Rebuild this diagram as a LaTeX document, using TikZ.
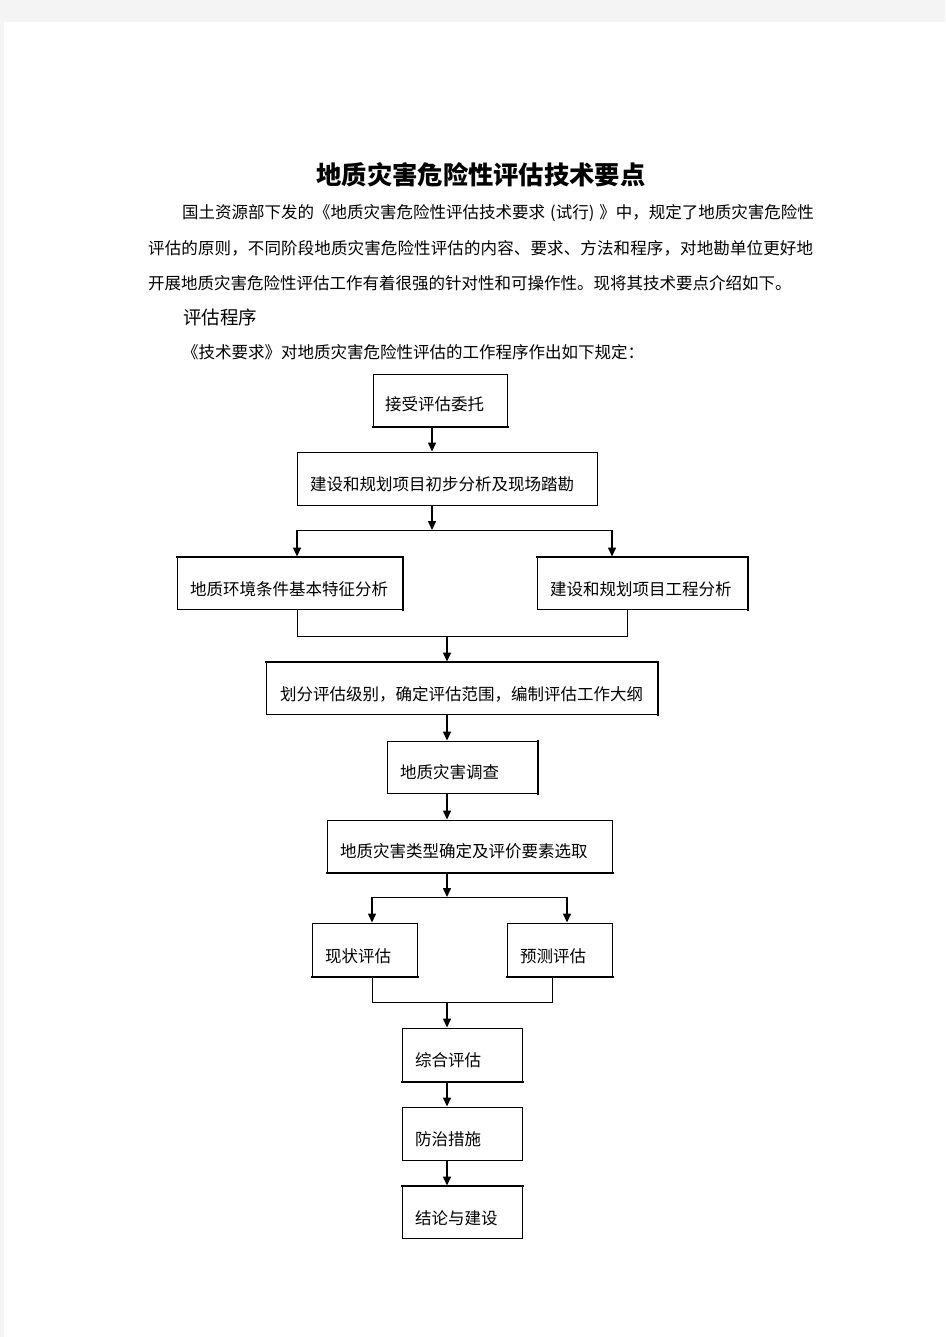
\documentclass[tikz,border=0pt]{standalone}
\usepackage{fontspec}
\setmainfont{Noto Sans CJK SC}
\usetikzlibrary{arrows.meta}
\definecolor{pagegray}{HTML}{F4F4F4}
\tikzset{
  box/.style={draw=black, line width=1pt, inner sep=0pt, fill=white},
  lbl/.style={anchor=west, inner sep=0pt, font=\fontsize{16.5}{20}\selectfont},
  arr/.style={line width=1.5pt, -{Triangle[length=9pt,width=8pt]}},
  ln/.style={line width=1pt},
  heavy/.style={line width=2pt, line cap=rect},
  para/.style={anchor=west, inner sep=0pt, font=\fontsize{16.5}{20}\selectfont}
}
\begin{document}
\begin{tikzpicture}[x=1pt,y=-1pt]
\useasboundingbox (0,0) rectangle (945,1337);
\fill[pagegray] (0,0) rectangle (945,1337);
\fill[white] (4,22) rectangle (945,1337);

% title and text
\node[inner sep=0pt, font=\fontsize{25.3}{30}\selectfont\bfseries] (title) at (481,175) {地质灾害危险性评估技术要点};
\node[para] (p1) at (182,213) {国土资源部下发的《地质灾害危险性评估技术要求\hspace{5pt}(试行)\hspace{5pt}》中，规定了地质灾害危险性};
\node[para] (p2) at (148,248) {\addfontfeature{LetterSpace=0.76}评估的原则，不同阶段地质灾害危险性评估的内容、要求、方法和程序，对地勘单位更好地};
\node[para] (p3) at (148,283) {开展地质灾害危险性评估工作有着很强的针对性和可操作性。现将其技术要点介绍如下。};
\node[anchor=west, inner sep=0pt, font=\fontsize{18.5}{22}\selectfont] (h1) at (183,317) {评估程序};
\node[para] (p4) at (182,352) {《技术要求》对地质灾害危险性评估的工作程序作出如下规定：};

% boxes
\node[box, minimum width=134pt, minimum height=52pt] (b1) at (440,400) {};
\node[box, minimum width=300pt, minimum height=53pt] (b2) at (447,478.5) {};
\node[box, minimum width=225pt, minimum height=52pt] (b3) at (289.5,583) {};
\node[box, minimum width=210pt, minimum height=52pt] (b4) at (642,583) {};
\node[box, minimum width=391pt, minimum height=52pt] (b5) at (461.5,688) {};
\node[box, minimum width=150pt, minimum height=52pt] (b6) at (462,767) {};
\node[box, minimum width=285pt, minimum height=52pt] (b7) at (469.5,846) {};
\node[box, minimum width=105pt, minimum height=53pt] (b8) at (364.5,949.5) {};
\node[box, minimum width=105pt, minimum height=53pt] (b9) at (559.5,949.5) {};
\node[box, minimum width=120pt, minimum height=53pt] (b10) at (462,1054.5) {};
\node[box, minimum width=120pt, minimum height=53pt] (b11) at (462,1133.5) {};
\node[box, minimum width=120pt, minimum height=52pt] (b12) at (462,1212) {};

% heavier edges as printed
\draw[heavy] (b1.south west) -- (b1.south east);
\draw[heavy] (b3.north west) -- (b3.north east) -- (b3.south east);
\draw[heavy] (b4.north west) -- (b4.north east) -- (b4.south east);
\draw[heavy] (b5.north west) -- (b5.north east) -- (b5.south east);
\draw[heavy] (b6.north east) -- (b6.south east);
\draw[heavy] (b7.south west) -- (b7.south east);
\draw[heavy] (b8.south west) -- (b8.south east);
\draw[heavy] (b9.south west) -- (b9.south east);
\draw[heavy] (b10.south west) -- (b10.south east);
\draw[heavy] (b12.north west) -- (b12.north east);

% box texts
\node[lbl] (t1) at (385,404) {接受评估委托};
\node[lbl] (t2) at (310,484) {建设和规划项目初步分析及现场踏勘};
\node[lbl] (t3) at (190,589) {地质环境条件基本特征分析};
\node[lbl] (t4) at (550,589) {建设和规划项目工程分析};
\node[lbl] (t5) at (280,694) {划分评估级别，确定评估范围，编制评估工作大纲};
\node[lbl] (t6) at (400,772) {地质灾害调查};
\node[lbl] (t7) at (340,851) {地质灾害类型确定及评价要素选取};
\node[lbl] (t8) at (325,956) {现状评估};
\node[lbl] (t9) at (520,956) {预测评估};
\node[lbl] (t10) at (415,1060) {综合评估};
\node[lbl] (t11) at (415,1139) {防治措施};
\node[lbl] (t12) at (415,1218) {结论与建设};

% helper coordinates
\coordinate (c1) at (432,0);
\coordinate (cx) at (447,0);
\coordinate (s1) at (432,530);
\coordinate (s1L) at (297,530);
\coordinate (s1R) at (612,530);
\coordinate (m1L) at (297,636);
\coordinate (m1R) at (627,636);
\coordinate (m1) at (447,636);
\coordinate (s2) at (447,897);
\coordinate (s2L) at (372,897);
\coordinate (s2R) at (567,897);
\coordinate (m2L) at (372,1002);
\coordinate (m2R) at (552,1002);
\coordinate (m2) at (447,1002);

% connectors
\draw[arr] (b1.south -| c1) -- (b2.north -| c1);
\draw[arr] (b2.south -| s1) -- (s1);
\draw[ln] (s1L) -- (s1R);
\draw[arr] (s1L) -- (b3.north -| s1L);
\draw[arr] (s1R) -- (b4.north -| s1R);
\draw[ln] (b3.south -| m1L) -- (m1L) -- (m1R) -- (b4.south -| m1R);
\draw[arr] (m1) -- (b5.north -| m1);
\draw[arr] (b5.south -| cx) -- (b6.north -| cx);
\draw[arr] (b6.south -| cx) -- (b7.north -| cx);
\draw[arr] (b7.south -| s2) -- (s2);
\draw[ln] (s2L) -- (s2R);
\draw[arr] (s2L) -- (b8.north -| s2L);
\draw[arr] (s2R) -- (b9.north -| s2R);
\draw[ln] (b8.south -| m2L) -- (m2L) -- (m2R) -- (b9.south -| m2R);
\draw[arr] (m2) -- (b10.north -| m2);
\draw[arr] (b10.south -| cx) -- (b11.north -| cx);
\draw[arr] (b11.south -| cx) -- (b12.north -| cx);
\end{tikzpicture}
\end{document}
